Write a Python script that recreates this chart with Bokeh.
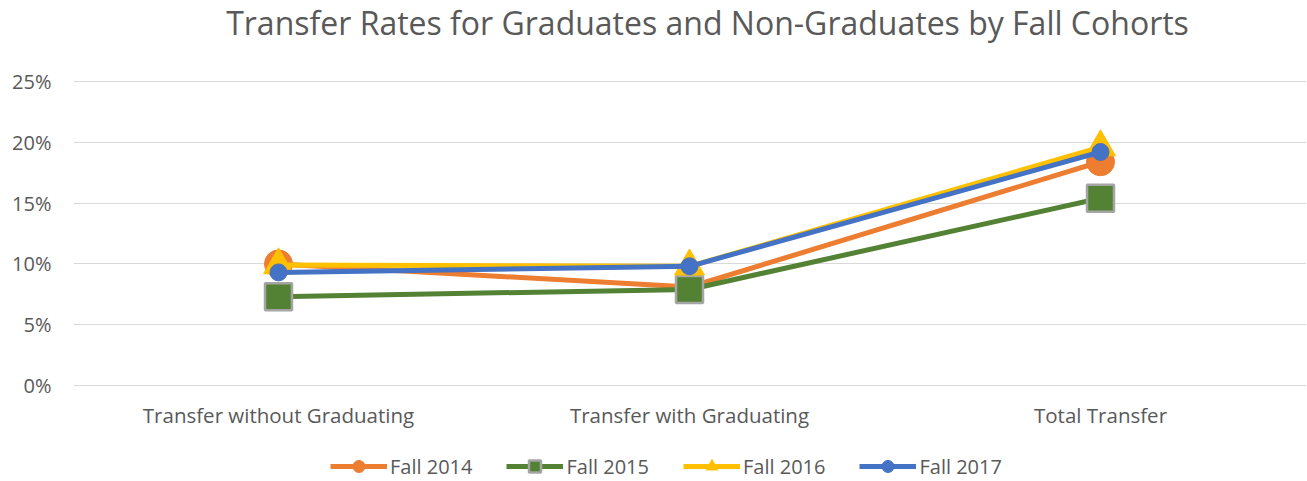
from bokeh.plotting import figure
from bokeh.models import ColumnDataSource, Legend, LegendItem, FixedTicker, Label
from bokeh.embed import file_html
from bokeh.resources import INLINE

categories = ["Transfer without Graduating", "Transfer with Graduating", "Total Transfer"]
series_names = ["Fall 2014", "Fall 2015", "Fall 2016", "Fall 2017"]
fall_2014 = [10.0, 8.1, 18.4]
fall_2015 = [7.3, 7.9, 15.4]
fall_2016 = [9.9, 9.8, 19.6]
fall_2017 = [9.3, 9.8, 19.2]
y_ticks = [0, 5, 10, 15, 20, 25]

FONT = "Open Sans"
TXT = "#595959"

# frame covers the whole height; 0% at px 385, 25% at px 81
PX_PER = (385 - 81) / 25.0
Y_TOP = 385 / PX_PER
Y_BOT = -(481 - 385) / PX_PER
X_L = (73 - 278) / 411.0
X_R = (1306 - 278) / 411.0

p = figure(frame_width=1233, frame_height=481, output_backend="svg", toolbar_location=None,
           x_range=(X_L, X_R), y_range=(Y_BOT, Y_TOP),
           min_border_left=73, min_border_right=0, min_border_top=0, min_border_bottom=0)
p.outline_line_color = None
p.background_fill_color = "white"
p.xaxis.visible = False

p.yaxis.ticker = FixedTicker(ticks=y_ticks)
p.yaxis.major_label_overrides = {t: f"{t}%" for t in y_ticks}
p.yaxis.axis_line_color = None
p.yaxis.major_tick_line_color = None
p.yaxis.minor_tick_line_color = None
p.yaxis.major_label_text_font = FONT
p.yaxis.major_label_text_font_size = "20px"
p.yaxis.major_label_text_color = TXT
p.yaxis.major_label_standoff = 16

p.xgrid.grid_line_color = None
p.ygrid.ticker = FixedTicker(ticks=y_ticks)
p.ygrid.grid_line_color = "#D9D9D9"
p.ygrid.grid_line_width = 1

xs = list(range(len(categories)))
cat_src = ColumnDataSource(dict(x=xs, y=[-(414 - 385) / PX_PER] * len(xs), t=categories))
p.text("x", "y", text="t", source=cat_src, text_font={"value": FONT}, text_font_size="20.5px",
       text_color=TXT, text_align="center", text_baseline="middle")

styles = [
    ("#ED7D31", "circle", 28, "#ED7D31", 1),
    ("#548235", "square", 27, "#A5A5A5", 2.5),
    ("#FFC000", "triangle", 30, "#FFC000", 1),
    ("#4472C4", "circle", 17, "#4472C4", 1),
]
data = [fall_2014, fall_2015, fall_2016, fall_2017]
items = []
for name, vals, (col, mk, sz, lc, lw) in zip(series_names, data, styles):
    src = ColumnDataSource(dict(x=xs, y=vals))
    r1 = p.line("x", "y", source=src, line_color=col, line_width=5)
    r2 = p.scatter("x", "y", source=src, marker=mk, size=sz, fill_color=col,
                   line_color=lc, line_width=lw)
    items.append(LegendItem(label=name, renderers=[r1, r2]))

legend = Legend(items=items, orientation="horizontal", location=(330 - 73, 0),
                label_text_font=FONT, label_text_font_size="20px", label_text_color=TXT,
                glyph_width=57, glyph_height=30, spacing=34, label_standoff=3, label_width=82,
                border_line_color=None, background_fill_alpha=0, padding=0, margin=0)
p.add_layout(legend, "center")

title = Label(x=707 - 73, y=481 - 22, x_units="screen", y_units="screen",
              text="Transfer Rates for Graduates and Non-Graduates by Fall Cohorts",
              text_font=FONT, text_font_size="32px", text_color=TXT,
              text_align="center", text_baseline="middle")
p.add_layout(title)

open("out.html", "w").write(file_html(p, INLINE))
